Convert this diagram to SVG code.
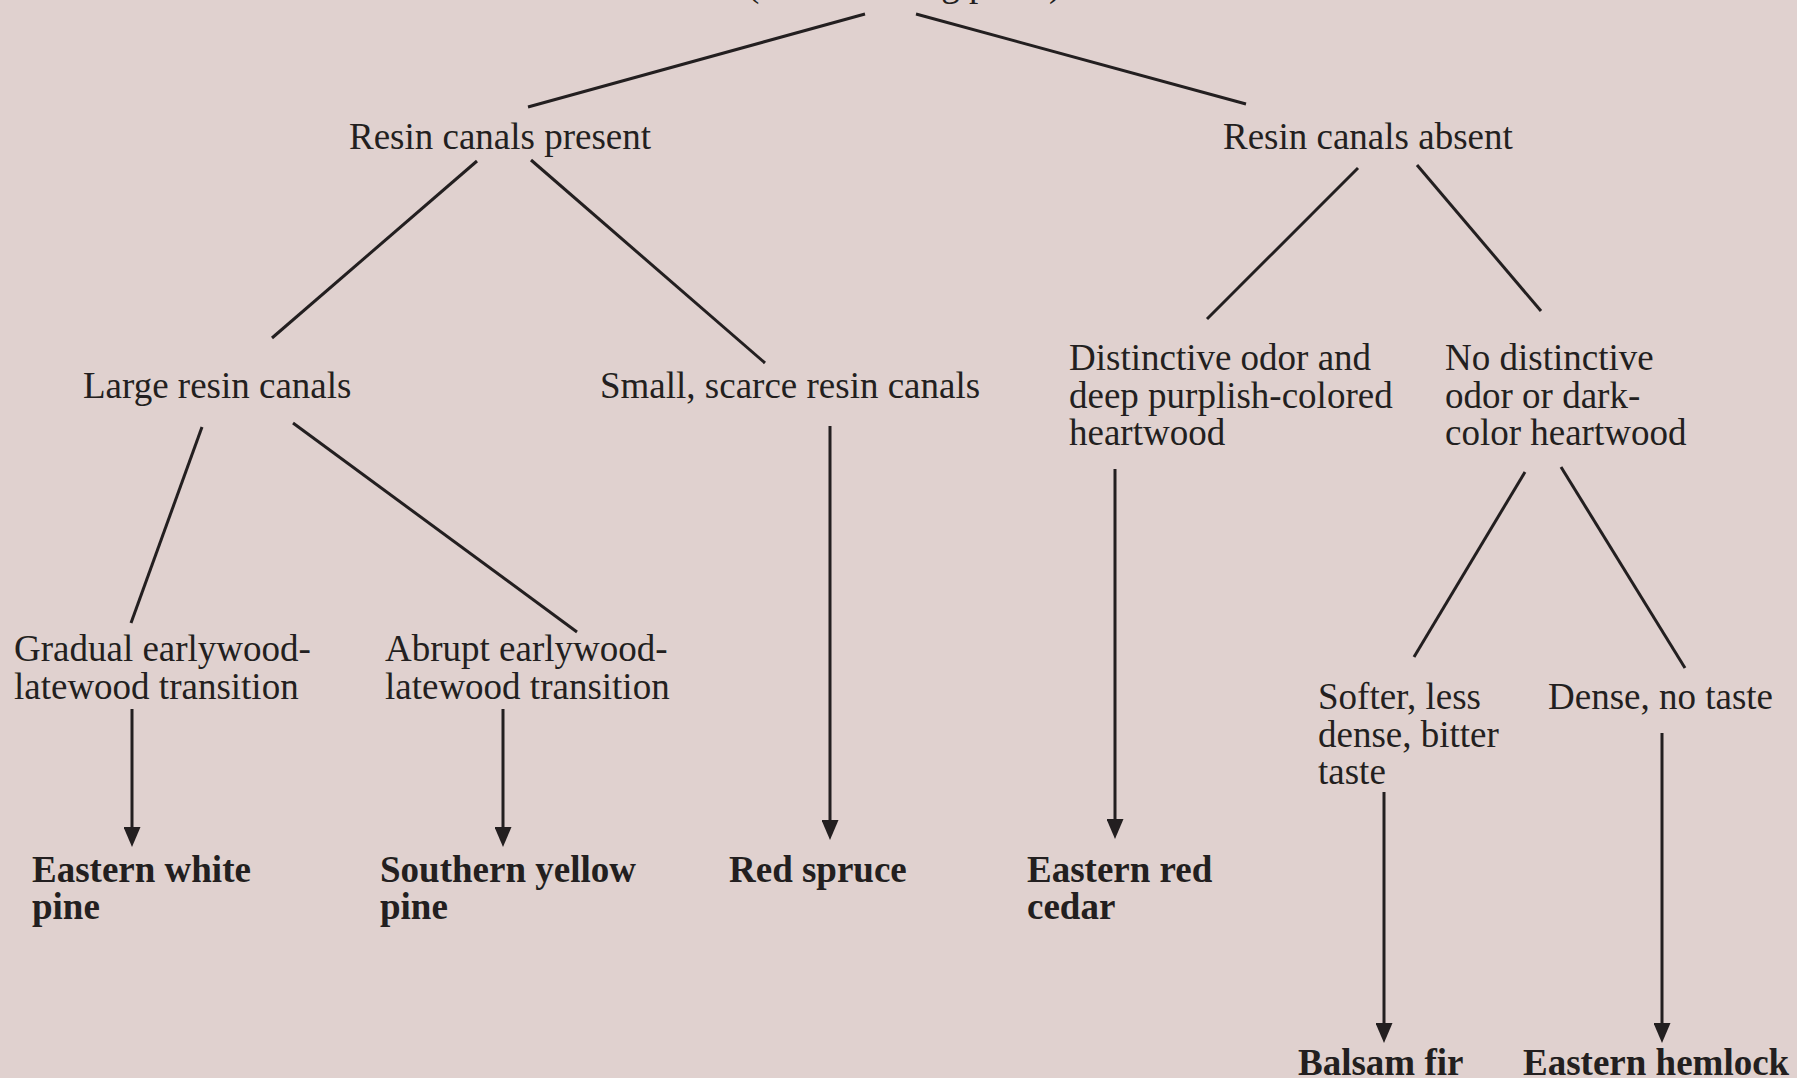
<svg xmlns="http://www.w3.org/2000/svg" width="1797" height="1078" viewBox="0 0 1797 1078">
<defs>
<style>
.t{font-family:"Liberation Serif","Times New Roman",serif;font-size:37px;fill:#231f20}
.b{font-family:"Liberation Serif","Times New Roman",serif;font-size:37px;font-weight:bold;fill:#231f20}
.l{stroke:#231f20;stroke-width:3;fill:none}
.a{stroke:#231f20;stroke-width:3;fill:none;marker-end:url(#ah)}
</style>
<marker id="ah" viewBox="0 0 20 17" markerWidth="20" markerHeight="17" refX="2" refY="8.5" orient="auto" markerUnits="userSpaceOnUse">
<path d="M0,0 L20,8.5 L0,17 Z" fill="#231f20"/>
</marker>
</defs>
<rect width="1797" height="1078" fill="#e0d1cf"/>
<g id="root"><text class="t" x="747" y="-4">(wood lacking pores)</text></g>
<g id="n-present"><text class="t" x="349" y="149">Resin canals present</text></g>
<g id="n-absent"><text class="t" x="1223" y="149">Resin canals absent</text></g>
<g id="n-large"><text class="t" x="83" y="398">Large resin canals</text></g>
<g id="n-small"><text class="t" x="600" y="398">Small, scarce resin canals</text></g>
<g id="n-odor"><text class="t" x="1069" y="370"><tspan x="1069" y="370">Distinctive odor and</tspan><tspan x="1069" y="407.5">deep purplish-colored</tspan><tspan x="1069" y="445">heartwood</tspan></text></g>
<g id="n-noodor"><text class="t" x="1445" y="370"><tspan x="1445" y="370">No distinctive</tspan><tspan x="1445" y="407.5">odor or dark-</tspan><tspan x="1445" y="445">color heartwood</tspan></text></g>
<g id="n-gradual"><text class="t" x="14" y="661"><tspan x="14" y="661">Gradual earlywood-</tspan><tspan x="14" y="698.5">latewood transition</tspan></text></g>
<g id="n-abrupt"><text class="t" x="385" y="661"><tspan x="385" y="661">Abrupt earlywood-</tspan><tspan x="385" y="698.5">latewood transition</tspan></text></g>
<g id="n-softer"><text class="t" x="1318" y="709"><tspan x="1318" y="709">Softer, less</tspan><tspan x="1318" y="746.5">dense, bitter</tspan><tspan x="1318" y="784">taste</tspan></text></g>
<g id="n-dense"><text class="t" x="1548" y="709">Dense, no taste</text></g>
<g id="s-ewp"><text class="b" x="32" y="882"><tspan x="32" y="882">Eastern white</tspan><tspan x="32" y="919">pine</tspan></text></g>
<g id="s-syp"><text class="b" x="380" y="882"><tspan x="380" y="882">Southern yellow</tspan><tspan x="380" y="919">pine</tspan></text></g>
<g id="s-rs"><text class="b" x="729" y="882">Red spruce</text></g>
<g id="s-erc"><text class="b" x="1027" y="882"><tspan x="1027" y="882">Eastern red</tspan><tspan x="1027" y="919">cedar</tspan></text></g>
<g id="s-bf"><text class="b" x="1298" y="1075">Balsam fir</text></g>
<g id="s-eh"><text class="b" x="1523" y="1075">Eastern hemlock</text></g>
<g id="connectors">
<line class="l" x1="865" y1="14" x2="528" y2="107"/>
<line class="l" x1="916" y1="14" x2="1246" y2="104"/>
<line class="l" x1="477" y1="161" x2="272" y2="338"/>
<line class="l" x1="531" y1="160" x2="765" y2="363"/>
<line class="l" x1="1358" y1="168" x2="1207" y2="319"/>
<line class="l" x1="1417" y1="165" x2="1541" y2="311"/>
<line class="l" x1="202" y1="427" x2="131" y2="623"/>
<line class="l" x1="293" y1="423" x2="577" y2="632"/>
<line class="l" x1="1525" y1="472" x2="1414" y2="657"/>
<line class="l" x1="1561" y1="467" x2="1685" y2="668"/>
<line class="a" x1="132" y1="709" x2="132" y2="829"/>
<line class="a" x1="503" y1="709" x2="503" y2="829"/>
<line class="a" x1="830" y1="426" x2="830" y2="822"/>
<line class="a" x1="1115" y1="469" x2="1115" y2="821"/>
<line class="a" x1="1384" y1="792" x2="1384" y2="1025"/>
<line class="a" x1="1662" y1="733" x2="1662" y2="1025"/>
</g>
</svg>
